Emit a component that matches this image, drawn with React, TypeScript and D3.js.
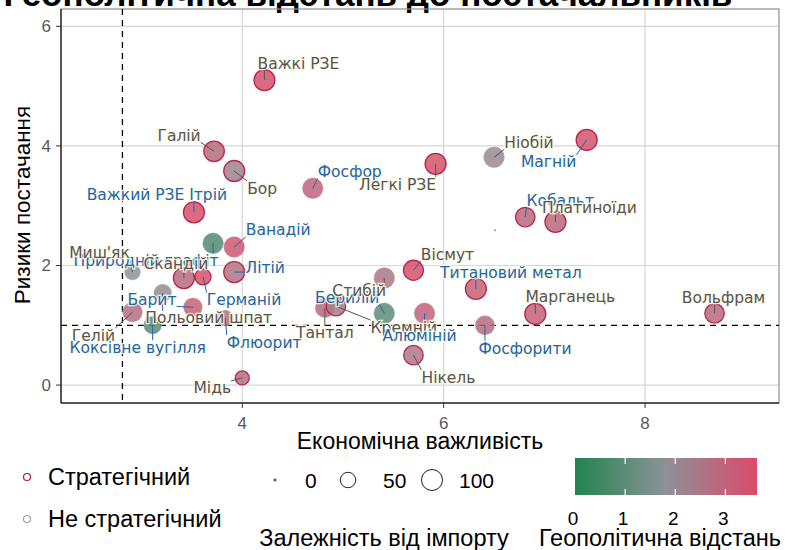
import React from "react";
import * as d3 from "d3";

// матеріали
const names = [
  "Важкі РЗЕ", "Галій", "Бор", "Фосфор", "Легкі РЗЕ", "Ніобій", "Магній",
  "Важкий РЗЕ Ітрій", "Кобальт", "Платиноїди", "", "Природній графіт", "Ванадій",
  "Миш'як", "Скандій", "Германій", "Літій", "Барит", "Польовий шпат", "Гелій",
  "Коксівне вугілля", "Флюорит", "Мідь", "Тантал", "Кремній", "Берилій", "Стибій",
  "Вісмут", "Алюміній", "Нікель", "Титановий метал", "Фосфорити", "Марганець", "Вольфрам",
];
const economicImportance = [
  4.22, 3.72, 3.92, 4.70, 5.92, 6.50, 7.42,
  3.52, 6.81, 7.11, 6.51, 3.71, 3.92,
  2.91, 3.42, 3.61, 3.92, 3.51, 3.21, 2.91,
  3.11, 3.83, 4.00, 4.82, 4.93, 5.41, 5.41,
  5.70, 5.81, 5.70, 6.32, 6.41, 6.91, 8.69,
];
const supplyRisk = [
  5.10, 3.91, 3.58, 3.29, 3.70, 3.81, 4.10,
  2.89, 2.81, 2.73, 2.59, 2.37, 2.31,
  1.89, 1.79, 1.81, 1.89, 1.30, 1.54, 1.22,
  1.00, 1.12, 0.12, 1.29, 1.32, 1.20, 1.79,
  1.92, 1.20, 0.50, 1.61, 1.00, 1.19, 1.20,
];
const importDependence = [
  100, 95, 100, 100, 100, 100, 100,
  100, 85, 100, 0, 100, 100,
  55, 100, 55, 100, 80, 70, 90,
  70, 55, 40, 85, 85, 100, 100,
  90, 100, 85, 100, 85, 100, 85,
];
const geoDistance = [
  3.5, 2.8, 2.2, 3.0, 3.4, 2.0, 3.4,
  3.5, 2.9, 2.9, 2.0, 0.8, 3.3,
  1.8, 2.8, 3.5, 2.6, 3.1, 1.9, 2.7,
  0.9, 2.6, 2.7, 2.9, 2.4, 1.0, 2.5,
  3.5, 3.0, 2.5, 3.1, 2.8, 3.1, 2.9,
];
const strategic = [
  true, true, true, false, true, false, true,
  true, true, true, false, false, false,
  false, true, true, true, false, false, false,
  false, false, true, false, true, false, false,
  true, false, true, true, false, true, true,
];
const critical = [
  false, false, false, true, false, false, true,
  true, true, false, false, true, true,
  false, false, true, true, true, false, false,
  true, true, false, false, false, true, false,
  false, true, false, true, true, false, false,
];
// зсув підписів (як у ggrepel), px
const labelNudge: [number, number][] = [
  [34, -17], [-35, -16], [28, 17], [37, -17], [-38, 21], [35, -15], [-38, 22],
  [-37, -18], [35, -17], [34, -14], [0, 0], [-67, 17], [44, -17],
  [-33, -20], [-8, -15], [41, 23], [31, -5], [-41, -8], [46, 25], [-39, 23],
  [-15, 22], [39, 24], [-30, 10], [0, 25], [68, 21], [-37, -16], [-25, 12],
  [34, -16], [-5, 22], [35, 22], [35, -16], [40, 23], [35, -17], [9, -16],
];

const xTicks = [4, 6, 8];
const yTicks = [0, 2, 4, 6];
const xMean = 2.81;
const yMean = 1;
const sizeLegend = [0, 50, 100];
const colorTicks = [0, 1, 2, 3];

const W = 785;
const H = 550;
const FONT = "'Liberation Sans', Arial, sans-serif";
const LABEL_FONT = "'DejaVu Sans', Verdana, sans-serif";
const LABEL_SIZE = 15.5;
const BLUE = "#2166ac";
const DARK = "#555555";

const x = d3.scaleLinear().domain([2.2, 9.33]).range([61, 779]);
const y = d3.scaleLinear().domain([-0.3, 6.29]).range([403, 9]);
const size = d3.scaleSqrt().domain([0, 100]).range([1, 10.5]);
const geoMax = 3.63;
const color = d3
  .scaleLinear<string>()
  .domain([0, 1.8, geoMax])
  .range(["#22834f", "#8c9298", "#db4b69"])
  .interpolate(d3.interpolateRgb);

let ctx: CanvasRenderingContext2D | null = null;
const measure = (s: string) => {
  if (!ctx && typeof document !== "undefined") ctx = document.createElement("canvas").getContext("2d");
  if (!ctx) return s.length * 8;
  ctx.font = `${LABEL_SIZE}px ${LABEL_FONT}`;
  return ctx.measureText(s).width;
};

const App = () => {
  const [x0, x1] = x.range();
  const [y0, y1] = y.range();

  const points = names.map((n, i) => ({
    name: n,
    cx: x(economicImportance[i]),
    cy: y(supplyRisk[i]),
    r: size(importDependence[i]),
    fill: color(geoDistance[i]),
    strategic: strategic[i],
    labelColor: critical[i] ? BLUE : DARK,
    nudge: labelNudge[i],
  }));

  const labels = points
    .filter(p => p.name !== "")
    .map(p => {
      const lx = p.cx + p.nudge[0];
      const ly = p.cy + p.nudge[1];
      const w = measure(p.name);
      const bx = Math.max(lx - w / 2, Math.min(p.cx, lx + w / 2));
      const by = Math.max(ly - 7, Math.min(p.cy, ly + 7));
      const len = Math.hypot(bx - p.cx, by - p.cy);
      return { ...p, lx, ly, bx, by, len };
    });

  const gradStops = d3.range(0, 1.0001, 0.05);
  const sizeX = [275, 348, 432];
  const sizeLabelX = [305, 383, 459];

  return (
    <svg width={W} height={H} style={{ position: "absolute", left: 0, top: 0, background: "#fff" }}>
      <text x={368} y={6} textAnchor="middle" fontFamily={FONT} fontWeight="bold" fontSize={35} fill="#000">
        Геополітична відстань до постачальників
      </text>

      {/* сітка */}
      {xTicks.map(t => (
        <line key={"gx" + t} x1={x(t)} x2={x(t)} y1={y1} y2={y0} stroke="#d6d6d6" strokeWidth={1.2} />
      ))}
      {yTicks.map(t => (
        <line key={"gy" + t} x1={x0} x2={x1} y1={y(t)} y2={y(t)} stroke="#d6d6d6" strokeWidth={1.2} />
      ))}
      <rect x={x0} y={y1} width={x1 - x0} height={y0 - y1} fill="none" stroke="#8f8f8f" strokeWidth={1.2} />
      <line x1={x0} x2={x0} y1={y1} y2={y0} stroke="#333" strokeWidth={1.5} />
      <line x1={x0} x2={x1} y1={y0} y2={y0} stroke="#333" strokeWidth={1.5} />

      {/* середні */}
      <line x1={x(xMean)} x2={x(xMean)} y1={y1} y2={y0} stroke="#000" strokeDasharray="6,5" strokeWidth={1.3} />
      <line x1={x0} x2={x1} y1={y(yMean)} y2={y(yMean)} stroke="#000" strokeDasharray="6,5" strokeWidth={1.3} />

      {/* осі */}
      {xTicks.map(t => (
        <g key={"tx" + t}>
          <line x1={x(t)} x2={x(t)} y1={y0} y2={y0 + 5} stroke="#333" />
          <text x={x(t)} y={y0 + 26} textAnchor="middle" fontFamily={FONT} fontSize={17} fill="#5a5a5a">{t}</text>
        </g>
      ))}
      {yTicks.map(t => (
        <g key={"ty" + t}>
          <line x1={x0 - 5} x2={x0} y1={y(t)} y2={y(t)} stroke="#333" />
          <text x={x0 - 10} y={y(t) + 6} textAnchor="end" fontFamily={FONT} fontSize={17} fill="#5a5a5a">{t}</text>
        </g>
      ))}
      <text x={420} y={449} textAnchor="middle" fontFamily={FONT} fontSize={23} fill="#000">Економічна важливість</text>
      <text transform={`translate(30,205) rotate(-90)`} textAnchor="middle" fontFamily={FONT} fontSize={22.5} fill="#000">
        Ризики постачання
      </text>

      {/* точки */}
      {points.map((p, i) => (
        <circle
          key={"p" + i}
          cx={p.cx}
          cy={p.cy}
          r={p.r}
          fill={p.fill}
          fillOpacity={0.85}
          stroke={p.strategic ? "#b0173f" : "#c8c8c8"}
          strokeOpacity={p.strategic ? 0.9 : 0.5}
          strokeWidth={p.strategic ? 1.3 : 0.8}
        />
      ))}

      {/* підписи */}
      {labels.map((l, i) =>
        l.len > 4 ? (
          <line key={"s" + i} x1={l.cx} y1={l.cy} x2={l.bx} y2={l.by} stroke={l.labelColor} strokeWidth={1} />
        ) : null
      )}
      {labels.map((l, i) => (
        <text
          key={"l" + i}
          x={l.lx}
          y={l.ly + 5.5}
          textAnchor="middle"
          fontFamily={LABEL_FONT}
          fontSize={LABEL_SIZE}
          fill={l.labelColor}
          stroke="#fffbe8"
          strokeWidth={2.5}
          strokeOpacity={0.85}
          paintOrder="stroke"
        >
          {l.name}
        </text>
      ))}

      {/* легенда: стратегічний */}
      <circle cx={27} cy={477} r={3.5} fill="none" stroke="#b0173f" strokeWidth={1.2} />
      <text x={48} y={485} fontFamily={FONT} fontSize={23.5} fill="#000">Стратегічний</text>
      <circle cx={27} cy={519} r={3.5} fill="none" stroke="#a0a0a0" strokeWidth={1.2} />
      <text x={48} y={527} fontFamily={FONT} fontSize={23.5} fill="#000">Не стратегічний</text>

      {/* легенда: розмір */}
      {sizeLegend.map((v, i) => (
        <g key={"sz" + v}>
          <circle cx={sizeX[i]} cy={480} r={size(v)} fill="none" stroke="#222" strokeWidth={1} />
          <text x={sizeLabelX[i]} y={488} fontFamily={FONT} fontSize={21} fill="#000">{v}</text>
        </g>
      ))}
      <text x={384} y={546} textAnchor="middle" fontFamily={FONT} fontSize={23.5} fill="#000">Залежність від імпорту</text>

      {/* легенда: колір */}
      <defs>
        <linearGradient id="geo" x1="0" x2="1" y1="0" y2="0">
          {gradStops.map(s => (
            <stop key={s} offset={s} stopColor={color(s * geoMax)} />
          ))}
        </linearGradient>
      </defs>
      {(() => {
        const c = d3.scaleLinear().domain([0, geoMax]).range([575, 757]);
        return (
          <g>
            <rect x={575} y={458} width={182} height={37} fill="url(#geo)" />
            {colorTicks.map(t => (
              <g key={"ct" + t}>
                {t > 0 && (
                  <>
                    <line x1={c(t)} x2={c(t)} y1={458} y2={464} stroke="#fff" strokeWidth={1.2} />
                    <line x1={c(t)} x2={c(t)} y1={489} y2={495} stroke="#fff" strokeWidth={1.2} />
                  </>
                )}
                <text x={c(t) - 2} y={525} textAnchor="middle" fontFamily={FONT} fontSize={19} fill="#000">{t}</text>
              </g>
            ))}
          </g>
        );
      })()}
      <text x={660} y={546} textAnchor="middle" fontFamily={FONT} fontSize={23.5} fill="#000">Геополітична відстань</text>
    </svg>
  );
};

export default App;
